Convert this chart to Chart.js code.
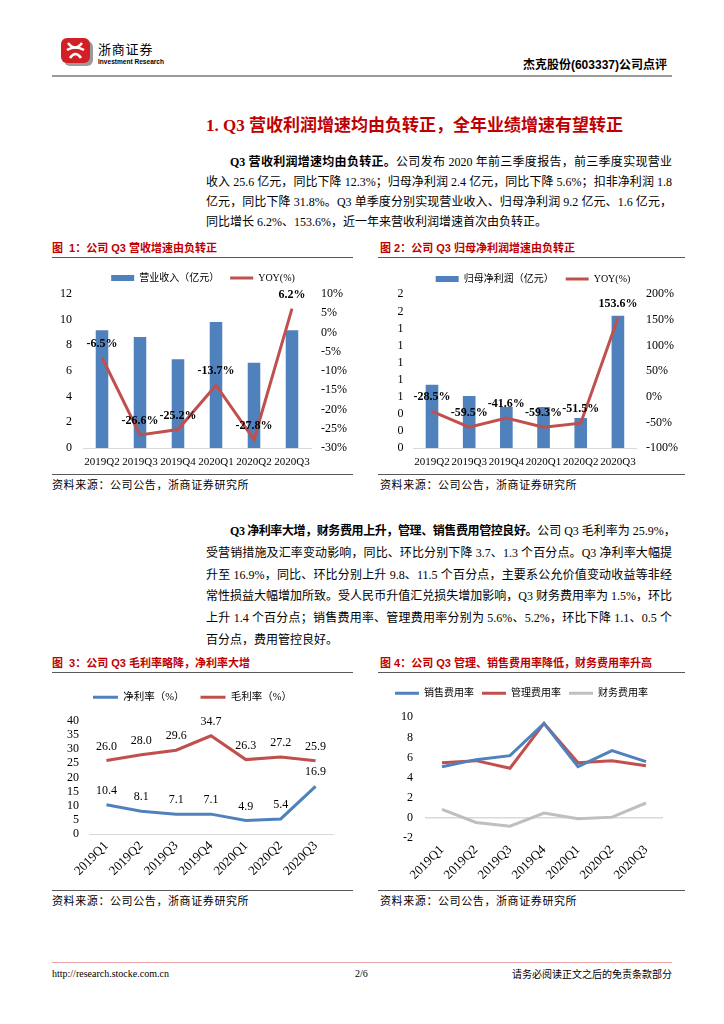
<!DOCTYPE html>
<html><head><meta charset="utf-8">
<script src="https://cdn.jsdelivr.net/npm/chart.js@4.4.0/dist/chart.umd.min.js"></script>
<style>
html,body{margin:0;padding:0;background:#fff;}
body{width:724px;height:1024px;position:relative;overflow:hidden;font-family:"Liberation Serif","Noto Sans CJK SC",serif;color:#000;}
.abs{position:absolute;}
.line{position:absolute;height:0;}
.para{position:absolute;left:206px;width:466px;font-size:12px;}
.para div{white-space:nowrap;text-align:justify;text-align-last:justify;}
.para div.last{text-align:left;text-align-last:left;}
.para b{font-family:"Liberation Serif","Noto Sans CJK SC",serif;font-weight:700;}
.ftitle{position:absolute;font-family:"Liberation Sans","Noto Sans CJK SC",sans-serif;font-weight:700;font-size:11px;line-height:14px;color:#C00000;white-space:nowrap;}
.src{position:absolute;font-family:"Liberation Serif","Noto Sans CJK SC",serif;font-size:11px;line-height:14px;letter-spacing:0.6px;color:#000;white-space:nowrap;}
canvas{position:absolute;}
</style>
</head>
<body>
<!-- header -->
<svg class="abs" style="left:60px;top:37px" width="34" height="30" viewBox="0 0 34 30">
  <rect x="4" y="4" width="29" height="25" rx="6" fill="#9b9b9b"/>
  <rect x="1" y="1" width="29" height="25" rx="6" fill="#D21F26"/>
  <path d="M8 6 q7 9 14 0" stroke="#fff" stroke-width="2.6" fill="none"/>
  <path d="M7 13 q8.5 -5 17 0" stroke="#fff" stroke-width="2.6" fill="none"/>
  <path d="M10 21 q5.5 -8 11 0" stroke="#fff" stroke-width="2.6" fill="none"/>
</svg>
<div class="abs" style="left:98px;top:40px;font-family:'Noto Sans CJK SC';font-size:13px;line-height:17px;letter-spacing:0.8px;">浙商证券</div>
<div class="abs" style="left:98px;top:57px;font-family:'Liberation Sans Narrow','Liberation Sans';font-weight:700;font-size:8px;line-height:10px;transform:scaleX(0.82);transform-origin:0 0;white-space:nowrap;">Investment Research</div>
<div class="abs" style="right:57px;top:58px;font-family:'Liberation Sans','Noto Sans CJK SC';font-weight:700;font-size:12px;line-height:15px;white-space:nowrap;">杰克股份(603337)公司点评</div>
<div class="line" style="left:52px;top:75px;width:620px;border-top:2px solid #9a9a9a;"></div>

<!-- section title -->
<div class="abs" style="left:206px;top:115px;font-family:'Liberation Serif','Noto Sans CJK SC';font-weight:700;font-size:17px;line-height:21px;color:#C00000;white-space:nowrap;">1. Q3 营收利润增速均由负转正，全年业绩增速有望转正</div>

<div class="para" style="top:152px;line-height:20px;">
  <div style="padding-left:24px;"><b>Q3 营收利润增速均由负转正。</b>公司发布 2020 年前三季度报告，前三季度实现营业</div>
  <div>收入 25.6 亿元，同比下降 12.3%；归母净利润 2.4 亿元，同比下降 5.6%；扣非净利润 1.8</div>
  <div>亿元，同比下降 31.8%。Q3 单季度分别实现营业收入、归母净利润 9.2 亿元、1.6 亿元，</div>
  <div class="last">同比增长 6.2%、153.6%，近一年来营收利润增速首次由负转正。</div>
</div>

<!-- figure 1 & 2 frames -->
<div class="ftitle" style="left:52px;top:241px;">图&nbsp;&nbsp;1：公司 Q3 营收增速由负转正</div>
<div class="line" style="left:52px;top:257px;width:301px;border-top:1px solid #595959;"></div>
<div class="line" style="left:52px;top:474px;width:301px;border-top:1px solid #595959;"></div>
<div class="src" style="left:52px;top:478px;">资料来源：公司公告，浙商证券研究所</div>

<div class="ftitle" style="left:380px;top:241px;">图 2：公司 Q3 归母净利润增速由负转正</div>
<div class="line" style="left:378px;top:257px;width:307px;border-top:1px solid #595959;"></div>
<div class="line" style="left:378px;top:474px;width:307px;border-top:1px solid #595959;"></div>
<div class="src" style="left:380px;top:478px;">资料来源：公司公告，浙商证券研究所</div>

<canvas id="c1" width="302" height="210" style="left:52px;top:262px;"></canvas>
<canvas id="c2" width="306" height="210" style="left:380px;top:262px;"></canvas>

<div class="para" style="top:521px;line-height:21.8px;">
  <div style="padding-left:24px;"><b style="letter-spacing:-0.4px;">Q3 净利率大增，财务费用上升，管理、销售费用管控良好。</b>公司 Q3 毛利率为 25.9%，</div>
  <div>受营销措施及汇率变动影响，同比、环比分别下降 3.7、1.3 个百分点。Q3 净利率大幅提</div>
  <div>升至 16.9%，同比、环比分别上升 9.8、11.5 个百分点，主要系公允价值变动收益等非经</div>
  <div>常性损益大幅增加所致。受人民币升值汇兑损失增加影响，Q3 财务费用率为 1.5%，环比</div>
  <div>上升 1.4 个百分点；销售费用率、管理费用率分别为 5.6%、5.2%，环比下降 1.1、0.5 个</div>
  <div class="last">百分点，费用管控良好。</div>
</div>

<!-- figure 3 & 4 frames -->
<div class="ftitle" style="left:52px;top:656px;">图&nbsp;&nbsp;3：公司 Q3 毛利率略降，净利率大增</div>
<div class="line" style="left:52px;top:672px;width:301px;border-top:1px solid #595959;"></div>
<div class="line" style="left:52px;top:890px;width:301px;border-top:1px solid #595959;"></div>
<div class="src" style="left:52px;top:894px;">资料来源：公司公告，浙商证券研究所</div>

<div class="ftitle" style="left:380px;top:656px;">图 4：公司 Q3 管理、销售费用率降低，财务费用率升高</div>
<div class="line" style="left:378px;top:672px;width:307px;border-top:1px solid #595959;"></div>
<div class="line" style="left:378px;top:890px;width:307px;border-top:1px solid #595959;"></div>
<div class="src" style="left:380px;top:894px;">资料来源：公司公告，浙商证券研究所</div>

<canvas id="c3" width="302" height="213" style="left:52px;top:675px;"></canvas>
<canvas id="c4" width="306" height="213" style="left:380px;top:675px;"></canvas>

<!-- footer -->
<div class="line" style="left:52px;top:962px;width:620px;border-top:1.5px solid #E7A3A3;"></div>
<div class="abs" style="left:52px;top:967px;font-size:10px;line-height:13px;white-space:nowrap;">http://research.stocke.com.cn</div>
<div class="abs" style="left:355px;top:967px;font-size:10px;line-height:13px;">2/6</div>
<div class="abs" style="right:52px;top:967px;font-size:10px;line-height:13px;white-space:nowrap;font-family:'Noto Sans CJK SC';">请务必阅读正文之后的免责条款部分</div>

<script>
// ---------- data ----------
const quarters6 = ['2019Q2','2019Q3','2019Q4','2020Q1','2020Q2','2020Q3'];
const revenue = [9.17, 8.65, 6.91, 9.82, 6.65, 9.17];
const revenueYoy = [-6.5, -26.6, -25.2, -13.7, -27.8, 6.2];
const netProfit = [0.74, 0.61, 0.48, 0.48, 0.35, 1.55];
const netProfitYoy = [-28.5, -59.5, -41.6, -59.3, -51.5, 153.6];

const quarters7 = ['2019Q1','2019Q2','2019Q3','2019Q4','2020Q1','2020Q2','2020Q3'];
const netMargin = [10.4, 8.1, 7.1, 7.1, 4.9, 5.4, 16.9];
const grossMargin = [26.0, 28.0, 29.6, 34.7, 26.3, 27.2, 25.9];
const sellingRate = [5.1, 5.8, 6.2, 9.4, 5.1, 6.7, 5.6];
const adminRate = [5.5, 5.7, 4.95, 9.4, 5.5, 5.7, 5.2];
const financeRate = [0.86, -0.43, -0.8, 0.5, -0.07, 0.1, 1.5];

// ---------- styles ----------
const SERIF = '"Liberation Serif", "Noto Sans CJK SC", serif';
const BLUE = '#4F81BD', RED = '#C0504D', GRAY = '#BFBFBF';

// value labels plugin (positions from the library's elements)
const valueLabels = {
  id: 'valueLabels',
  afterDatasetsDraw(chart, args, opts) {
    const ctx = chart.ctx;
    (opts.items || []).forEach(cfg => {
      const meta = chart.getDatasetMeta(cfg.dataset);
      const data = chart.data.datasets[cfg.dataset].data;
      ctx.save();
      ctx.font = cfg.font;
      ctx.fillStyle = cfg.color || '#000';
      ctx.textAlign = 'center';
      ctx.textBaseline = 'middle';
      meta.data.forEach((el, i) => {
        ctx.fillText(cfg.format(data[i]), el.x, el.y - cfg.offset);
      });
      ctx.restore();
    });
  }
};
// extra space under legend
const legendSpace = {
  id: 'legendSpace',
  beforeInit(chart, args, opts) {
    const lg = chart.legend;
    if (!lg) return;
    const fit = lg.fit;
    lg.fit = function () { fit.call(lg); lg.height += (opts.extra || 0); };
  }
};

function legendOpts(fontSize, padding, boxW) {
  return {
    display: true, position: 'top',
    labels: {
      usePointStyle: true, pointStyleWidth: boxW, boxWidth: boxW, boxHeight: 6,
      padding: padding, color: '#000',
      font: { family: SERIF, size: fontSize },
      sort: (a, b) => a.datasetIndex - b.datasetIndex,
      generateLabels(chart) {
        return chart.data.datasets.map((ds, i) => {
          const isBar = chart.getDatasetMeta(i).type === 'bar';
          return {
            text: ds.label, datasetIndex: i, hidden: false, fontColor: '#000',
            fillStyle: isBar ? ds.backgroundColor : ds.borderColor,
            strokeStyle: isBar ? ds.backgroundColor : ds.borderColor,
            lineWidth: isBar ? 0 : 3,
            pointStyle: isBar ? 'rect' : 'line'
          };
        });
      }
    }
  };
}
function fixedWidth(w) { return s => { s.width = w; }; }
function fixedHeight(h) { return s => { s.height = h; }; }
const tickFont = { family: SERIF, size: 12 };
const xFont = { family: SERIF, size: 11 };
const rotFont = { family: SERIF, size: 13 };

// ---------- chart 1 ----------
new Chart(document.getElementById('c1'), {
  data: {
    labels: quarters6,
    datasets: [
      { type: 'bar', label: '营业收入（亿元）', data: revenue, backgroundColor: BLUE, yAxisID: 'y', order: 1, barPercentage: 0.33, categoryPercentage: 1 },
      { type: 'line', label: 'YOY(%)', data: revenueYoy, borderColor: RED, backgroundColor: RED, borderWidth: 3, pointRadius: 0, tension: 0, yAxisID: 'y1', order: 0 }
    ]
  },
  options: {
    responsive: false, animation: false, devicePixelRatio: 1,
    layout: { padding: { top: 0, left: 0, right: 0, bottom: 0 } },
    plugins: {
      legend: legendOpts(10, 11, 23), tooltip: { enabled: false },
      legendSpace: { extra: 1 },
      valueLabels: { items: [{ dataset: 1, offset: 14, font: 'bold 12px ' + SERIF, format: v => v.toFixed(1) + '%' }] }
    },
    scales: {
      x: { grid: { display: false, drawTicks: false }, border: { color: '#D9D9D9' }, ticks: { color: '#000', font: xFont, padding: 8, maxRotation: 0, autoSkip: false }, afterFit: fixedHeight(24) },
      y: { position: 'left', min: 0, max: 12, grid: { display: false, drawTicks: false }, border: { display: false }, ticks: { stepSize: 2, autoSkip: false, color: '#000', font: tickFont, padding: 11 }, afterFit: fixedWidth(31) },
      y1: { position: 'right', min: -30, max: 10, grid: { display: false, drawTicks: false }, border: { display: false }, ticks: { stepSize: 5, autoSkip: false, color: '#000', font: tickFont, padding: 10, callback: v => v + '%' }, afterFit: fixedWidth(43) }
    }
  },
  plugins: [valueLabels, legendSpace]
});

// ---------- chart 2 ----------
new Chart(document.getElementById('c2'), {
  data: {
    labels: quarters6,
    datasets: [
      { type: 'bar', label: '归母净利润（亿元）', data: netProfit, backgroundColor: BLUE, yAxisID: 'y', order: 1, barPercentage: 0.34, categoryPercentage: 1 },
      { type: 'line', label: 'YOY(%)', data: netProfitYoy, borderColor: RED, backgroundColor: RED, borderWidth: 3, pointRadius: 0, tension: 0, yAxisID: 'y1', order: 0 }
    ]
  },
  options: {
    responsive: false, animation: false, devicePixelRatio: 1,
    layout: { padding: { top: 0, left: 0, right: 0, bottom: 0 } },
    plugins: {
      legend: legendOpts(10, 12, 23), tooltip: { enabled: false },
      legendSpace: { extra: 0.3 },
      valueLabels: { items: [{ dataset: 1, offset: 14, font: 'bold 12px ' + SERIF, format: v => v.toFixed(1) + '%' }] }
    },
    scales: {
      x: { grid: { display: false, drawTicks: false }, border: { color: '#D9D9D9' }, ticks: { color: '#000', font: xFont, padding: 8, maxRotation: 0, autoSkip: false }, afterFit: fixedHeight(24) },
      y: { position: 'left', min: 0, max: 1.8, grid: { display: false, drawTicks: false }, border: { display: false }, ticks: { stepSize: 0.2, autoSkip: false, color: '#000', font: tickFont, padding: 10, callback: v => String(Math.round(v)) }, afterFit: fixedWidth(33.4) },
      y1: { position: 'right', min: -100, max: 200, grid: { display: false, drawTicks: false }, border: { display: false }, ticks: { stepSize: 50, autoSkip: false, color: '#000', font: tickFont, padding: 9.5, callback: v => v + '%' }, afterFit: fixedWidth(49.5) }
    }
  },
  plugins: [valueLabels, legendSpace]
});

// ---------- chart 3 ----------
new Chart(document.getElementById('c3'), {
  type: 'line',
  data: {
    labels: quarters7,
    datasets: [
      { label: '净利率（%）', data: netMargin, borderColor: BLUE, backgroundColor: BLUE, borderWidth: 3, pointRadius: 0, tension: 0 },
      { label: '毛利率（%）', data: grossMargin, borderColor: RED, backgroundColor: RED, borderWidth: 3, pointRadius: 0, tension: 0 }
    ]
  },
  options: {
    responsive: false, animation: false, devicePixelRatio: 1,
    layout: { padding: { top: 1, left: 0, right: 21, bottom: 0 } },
    plugins: {
      legend: legendOpts(10.5, 16, 25), tooltip: { enabled: false },
      legendSpace: { extra: 8.2 },
      valueLabels: { items: [
        { dataset: 0, offset: 14, font: '12px ' + SERIF, format: v => v.toFixed(1) },
        { dataset: 1, offset: 14, font: '12px ' + SERIF, format: v => v.toFixed(1) }
      ] }
    },
    scales: {
      x: { offset: true, grid: { display: false, drawTicks: false }, border: { color: '#D9D9D9' }, ticks: { color: '#000', font: rotFont, padding: 4, minRotation: 45, maxRotation: 45, autoSkip: false }, afterFit: fixedHeight(53.7) },
      y: { min: 0, max: 40, grid: { display: false, drawTicks: false }, border: { display: false }, ticks: { stepSize: 5, autoSkip: false, color: '#000', font: tickFont, padding: 10 }, afterFit: fixedWidth(37) }
    }
  },
  plugins: [valueLabels, legendSpace]
});

// ---------- chart 4 ----------
new Chart(document.getElementById('c4'), {
  type: 'line',
  data: {
    labels: quarters7,
    datasets: [
      { label: '销售费用率', data: sellingRate, borderColor: BLUE, backgroundColor: BLUE, borderWidth: 3, pointRadius: 0, tension: 0 },
      { label: '管理费用率', data: adminRate, borderColor: RED, backgroundColor: RED, borderWidth: 3, pointRadius: 0, tension: 0 },
      { label: '财务费用率', data: financeRate, borderColor: GRAY, backgroundColor: GRAY, borderWidth: 3, pointRadius: 0, tension: 0 }
    ]
  },
  options: {
    responsive: false, animation: false, devicePixelRatio: 1,
    layout: { padding: { top: 5.3, left: 0, right: 23, bottom: 0 } },
    plugins: {
      legend: legendOpts(10, 8, 24), tooltip: { enabled: false },
      legendSpace: { extra: 9 }
    },
    scales: {
      x: { offset: true, grid: { display: false, drawTicks: false }, border: { display: false }, ticks: { color: '#000', font: rotFont, padding: 4, minRotation: 45, maxRotation: 45, autoSkip: false }, afterFit: fixedHeight(49.7) },
      y: { min: -2, max: 10, grid: { drawTicks: false, lineWidth: 1.5, color: c => (c.tick && c.tick.value === 0) ? '#D9D9D9' : 'rgba(0,0,0,0)' }, border: { display: false }, ticks: { stepSize: 2, autoSkip: false, color: '#000', font: tickFont, padding: 12 }, afterFit: fixedWidth(45) }
    }
  },
  plugins: [valueLabels, legendSpace]
});
</script>
</body></html>
